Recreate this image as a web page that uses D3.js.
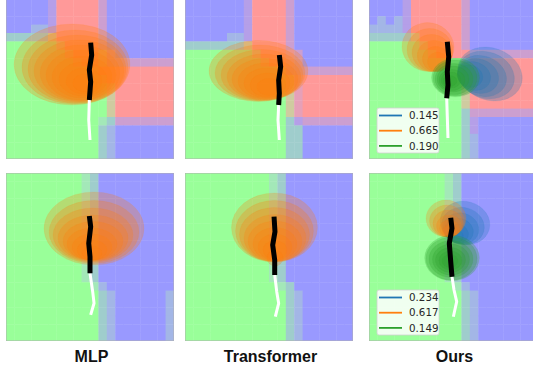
<!DOCTYPE html>
<html>
<head>
<meta charset="utf-8">
<script src="https://cdn.jsdelivr.net/npm/d3@7"></script>
<style>
  body { margin: 0; background: #fff; }
  svg { display: block; }
</style>
</head>
<body>
<svg id="chart" width="533" height="372"></svg>
<script>
// method names under the columns
const methods = ['MLP', 'Transformer', 'Ours'];

// background class maps, 20x20 cells, top row first
// B blue, G green, R red; lower case letters are blended cells
const bgMlpTop = [
  'BBBBBqRRRRRpBBBBBBBB', 'BBBBBqRRRRRpBBBBBBBB', 'BBBBBqRRRRRpBBBBBBBB', 'BBBBBqRRRRRpBBBBBBBB',
  'BBBbbqRRRRRpBBBBBBBB', 'cccccyRRRRRpBBBBBBBB', 'GGGGGGyRRRRpBBBBBBBB', 'GGGGGGGyRRRypBBBBBBB',
  'GGGGGGGGyRRypppppppp', 'GGGGGGGGGGyRRRRRRRRR', 'GGGGGGGGGGGyRRRRRRRR', 'GGGGGGGGGGGGyRRRRRRR',
  'GGGGGGGGGGGGyRRRRRRR', 'GGGGGGGGGGGGyRRRRRRR', 'GGGGGGGGGGGGyRRRRRRR', 'GGGGGGGGGGGgcppppppp',
  'GGGGGGGGGGGcbBBBBBBB', 'GGGGGGGGGGGcbBBBBBBB', 'GGGGGGGGGGGcbBBBBBBB', 'GGGGGGGGGGGcbBBBBBBB'
];
const bgTrfTop = [
  'BBBBBBBqRRRRpBBBBBBB', 'BBBBBBBqRRRRpBBBBBBB', 'BBBBBBBqRRRRpBBBBBBB', 'BBBBBBBqRRRRpBBBBBBB',
  'BBBBBBBqRRRRpBBBBBBB', 'BBBBBbbqRRRRpBBBBBBB', 'cccccccyRRRRpBBBBBBB', 'GGGGGGGGyRRRrpBBBBBB',
  'GGGGGGGGGyRRrpBBBBBB', 'GGGGGGGGGGGypppppppp', 'GGGGGGGGGGGGyrRRRRRR', 'GGGGGGGGGGGGyrRRRRRR',
  'GGGGGGGGGGGGyrRRRRRR', 'GGGGGGGGGGGGyrRRRRRR', 'GGGGGGGGGGGGyrRRRRRR', 'GGGGGGGGGGGGcqpppppp',
  'GGGGGGGGGGGGccBBBBBB', 'GGGGGGGGGGGGccBBBBBB', 'GGGGGGGGGGGGccBBBBBB', 'GGGGGGGGGGGGccBBBBBB'
];
const bgOursTop = [
  'BBBBqRRRRRRpBBBBBBBB', 'BBBBqRRRRRRpBBBBBBBB', 'BBBBqRRRRRRpBBBBBBBB', 'BbBbqRRRRRRpBBBBBBBB',
  'bbbbqRRRRRRpBBBBBBBB', 'cccccyRRRRRpBBBBBBBB', 'GGGGGGyRRRRpBBBBBBBB', 'GGGGGGGyRRRRpppppppp',
  'GGGGGGGGGGGyRRRRRRRR', 'GGGGGGGGGGGyRRRRRRRR', 'GGGGGGGGGGGyRRRRRRRR', 'GGGGGGGGGGGyRRRRRRRR',
  'GGGGGGGGGGGyRRRRRRRR', 'GGGGGGGGGGGyRRRRRRRR', 'GGGGGGGGGGGcpppppppp', 'GGGGGGGGGGGcqBBBBBBB',
  'GGGGGGGGGGGcqBBBBBBB', 'GGGGGGGGGGGcbBBBBBBB', 'GGGGGGGGGGGcbBBBBBBB', 'GGGGGGGGGGGcbBBBBBBB'
];
const bgMlpBot = [
  'GGGGGGGGGgcBBBBBBBBB', 'GGGGGGGGGgcBBBBBBBBB', 'GGGGGGGGGgcBBBBBBBBB', 'GGGGGGGGGgcBBBBBBBBB',
  'GGGGGGGGGgcBBBBBBBBB', 'GGGGGGGGGgcBBBBBBBBB', 'GGGGGGGGGgcBBBBBBBBB', 'GGGGGGGGGgcBBBBBBBBB',
  'GGGGGGGGGgcBBBBBBBBB', 'GGGGGGGGGgcBBBBBBBBB', 'GGGGGGGGGgcBBBBBBBBB', 'GGGGGGGGGgcBBBBBBBBB',
  'GGGGGGGGGgcBBBBBBBBB', 'GGGGGGGGGGgbBBBBBBBB', 'GGGGGGGGGGGcbBBBBBBb', 'GGGGGGGGGGGcbBBBBBBb',
  'GGGGGGGGGGGcbBBBBBBb', 'GGGGGGGGGGGcbBBBBBBb', 'GGGGGGGGGGGcbBBBBBBb', 'GGGGGGGGGGGcbBBBBBBb'
];
const bgTrfBot = [
  'GGGGGGGGGGgcBBBBBBBB', 'GGGGGGGGGGgcBBBBBBBB', 'GGGGGGGGGGgcBBBBBBBB', 'GGGGGGGGGGgcBBBBBBBB',
  'GGGGGGGGGGgcBBBBBBBB', 'GGGGGGGGGGgcBBBBBBBB', 'GGGGGGGGGGgcBBBBBBBB', 'GGGGGGGGGGgcBBBBBBBB',
  'GGGGGGGGGGgcBBBBBBBB', 'GGGGGGGGGGgcBBBBBBBB', 'GGGGGGGGGGgcBBBBBBBB', 'GGGGGGGGGGgcBBBBBBBB',
  'GGGGGGGGGGgcBBBBBBBB', 'GGGGGGGGGGGgcBBBBBBB', 'GGGGGGGGGGGGcbBBBBBB', 'GGGGGGGGGGGGcbBBBBBB',
  'GGGGGGGGGGGGcbBBBBBB', 'GGGGGGGGGGGGcbBBBBBB', 'GGGGGGGGGGGGcbBBBBBB', 'GGGGGGGGGGGGcbBBBBBB'
];
const bgOursBot = [
  'GGGGGGGGGgcBBBBBBBBB', 'GGGGGGGGGgcBBBBBBBBB', 'GGGGGGGGGgcBBBBBBBBB', 'GGGGGGGGGgcBBBBBBBBB',
  'GGGGGGGGGgcBBBBBBBBB', 'GGGGGGGGGgcBBBBBBBBB', 'GGGGGGGGGgcBBBBBBBBB', 'GGGGGGGGGgcBBBBBBBBB',
  'GGGGGGGGGgcBBBBBBBBB', 'GGGGGGGGGgcBBBBBBBBB', 'GGGGGGGGGgcBBBBBBBBB', 'GGGGGGGGGgcBBBBBBBBB',
  'GGGGGGGGGgcBBBBBBBBB', 'GGGGGGGGGGgbBBBBBBBB', 'GGGGGGGGGGGcbBBBBBBB', 'GGGGGGGGGGGcbBBBBBBB',
  'GGGGGGGGGGGcbBBBBBBB', 'GGGGGGGGGGGcbBBBBBBB', 'GGGGGGGGGGGcbBBBBBBB', 'GGGGGGGGGGGcbBBBBBBB'
];

// predicted gaussians per step: [x, y, rx, ry] in metres
const ellMlpTop = [
  [-2.14, 1.25, 6.90, 4.82], [-1.79, 0.95, 6.31, 4.40], [-1.55, 0.71, 5.83, 4.05],
  [-1.31, 0.48, 5.36, 3.69], [-1.19, 0.24, 4.76, 3.33], [-1.07, 0.00, 4.17, 2.98],
  [-0.95, -0.24, 3.57, 2.50], [-0.83, -0.48, 2.86, 2.02], [-0.71, -0.71, 2.14, 1.55],
  [-0.60, -0.95, 1.43, 1.07]
];
const ellTrfTop = [
  [-1.25, 0.48, 5.89, 3.63], [-1.07, 0.24, 5.36, 3.33], [-0.83, 0.00, 4.88, 3.04],
  [-0.60, -0.24, 4.40, 2.74], [-0.48, -0.48, 3.93, 2.44], [-0.36, -0.71, 3.33, 2.14],
  [-0.24, -0.95, 2.74, 1.79], [-0.12, -1.19, 2.14, 1.43], [0.00, -1.43, 1.43, 1.01]
];
const ellOursTopBlue = [
  [4.40, 0.12, 3.93, 3.10], [3.93, 0.00, 3.45, 2.74], [3.45, -0.12, 2.98, 2.38],
  [2.98, -0.12, 2.50, 2.02], [2.50, -0.12, 2.02, 1.67], [2.02, -0.12, 1.55, 1.31]
];
const ellOursTopOrange = [
  [-2.98, 3.33, 3.10, 2.90], [-2.74, 2.98, 2.74, 2.55], [-2.50, 2.62, 2.38, 2.20],
  [-2.26, 2.26, 2.00, 1.85], [-2.02, 1.90, 1.62, 1.50], [-1.79, 1.55, 1.25, 1.15]
];
const ellOursTopGreen = [
  [0.30, -0.30, 2.85, 2.30], [0.24, -0.36, 2.62, 2.14], [0.12, -0.48, 2.26, 1.85],
  [0.00, -0.48, 1.90, 1.55], [-0.12, -0.60, 1.55, 1.25], [-0.24, -0.60, 1.19, 0.95],
  [-0.36, -0.71, 0.83, 0.65]
];
const ellMlpBot = [
  [0.48, 3.39, 5.95, 4.35], [0.48, 2.98, 5.36, 3.75], [0.36, 2.62, 4.76, 3.21],
  [0.36, 2.26, 4.17, 2.74], [0.36, 1.90, 3.57, 2.32], [0.24, 1.55, 2.98, 1.90],
  [0.24, 1.19, 2.38, 1.55], [0.24, 0.83, 1.79, 1.19], [0.24, 0.48, 1.19, 0.83]
];
const ellTrfBot = [
  [0.65, 3.51, 5.12, 4.11], [0.65, 3.10, 4.64, 3.63], [0.65, 2.68, 4.17, 3.21],
  [0.71, 2.26, 3.69, 2.80], [0.71, 1.90, 3.21, 2.38], [0.71, 1.55, 2.62, 1.96],
  [0.71, 1.19, 2.02, 1.55], [0.71, 0.83, 1.43, 1.13], [0.71, -0.12, 0.95, 0.95]
];
const ellOursBotBlue = [
  [1.43, 4.05, 2.98, 2.56], [1.19, 3.69, 2.56, 2.20], [0.95, 3.39, 2.14, 1.85],
  [0.71, 3.10, 1.73, 1.49], [0.54, 2.80, 1.31, 1.13], [0.36, 2.50, 0.89, 0.77]
];
const ellOursBotOrange = [
  [-0.83, 4.58, 2.38, 2.20], [-0.71, 4.29, 2.08, 1.90], [-0.60, 3.99, 1.79, 1.61],
  [-0.48, 3.69, 1.49, 1.31], [-0.42, 3.39, 1.19, 1.01], [-0.36, 3.10, 0.89, 0.71]
];
const ellOursBotGreen = [
  [-0.12, -0.12, 3.25, 2.70], [-0.18, -0.18, 3.04, 2.56], [-0.24, -0.24, 2.62, 2.20],
  [-0.24, -0.30, 2.20, 1.85], [-0.30, -0.36, 1.79, 1.49], [-0.30, -0.42, 1.37, 1.13],
  [-0.36, -0.48, 0.95, 0.77]
];

// mode tilt in degrees (blue, orange, green)
const tiltOursTop = [-20, -10, 0];
const tiltOursBot = [-15, 0, 0];

// mode probabilities (blue, orange, green)
const probsOursTop = [0.145, 0.665, 0.190];
const probsOursBot = [0.234, 0.617, 0.149];

// ground truth future (black) and past (white)
const futMlpTop = [[0.08, 3.85], [0.2, 2.38], [-0.08, 0.6], [0.08, -0.8], [-0.08, -2.98]];
const histMlpTop = [[-0.08, -2.98], [-0.15, -5.36], [0, -7.74]];
const futTrfTop = [[1.23, 2.38], [1.39, 0.99], [1.15, -0.6], [1.23, -2.18], [1.15, -3.57]];
const histTrfTop = [[1.15, -3.57], [1.07, -5.36], [1.23, -7.74]];
const futOursTop = [[-0.68, 3.96], [-0.51, 2.18], [-0.68, 0.39], [-0.6, -1.19], [-0.75, -2.77]];
const histOursTop = [[-0.75, -2.77], [-0.68, -4.96], [-0.6, -7.5]];
const futMlpBot = [[-0.08, 4.88], [0.08, 3.61], [-0.15, 1.63], [0, 0.04], [0, -1.94]];
const histMlpBot = [[0, -1.94], [0.32, -4.13], [0.48, -5.51], [0.08, -6.9]];
const futTrfBot = [[0.6, 4.8], [0.71, 3.01], [0.44, 1.43], [0.68, -0.36], [0.68, -2.14]];
const histTrfBot = [[0.68, -2.14], [0.92, -4.13], [1.15, -5.51], [0.75, -7.11]];
const futOursBot = [[-0.27, 4.68], [-0.12, 3.42], [-0.44, 1.63], [-0.27, -0.56], [-0.12, -2.35]];
const histOursBot = [[-0.12, -2.35], [0.12, -3.93], [0.44, -5.32], [0.04, -7.11]];

const cellFill = {
  B: '#9999ff', G: '#99ff99', R: '#ff9999',
  c: '#9fcdcc', g: '#a3e8b8', b: '#a3b6e6',
  p: '#cc9fd0', q: '#b59fe8', r: '#e6a0b8', y: '#cfcba0'
};
const modeColor = ['#1f77b4', '#ff7f0e', '#2ca02c'];

const size = 168;
const colX = [6, 185, 369];
const rowY = [-9, 173];

const panels = [
  { col: 0, row: 0, bg: bgMlpTop, modes: [{ c: 1, ell: ellMlpTop }], fut: futMlpTop, hist: histMlpTop },
  { col: 1, row: 0, bg: bgTrfTop, modes: [{ c: 1, ell: ellTrfTop }], fut: futTrfTop, hist: histTrfTop },
  { col: 2, row: 0, bg: bgOursTop, fut: futOursTop, hist: histOursTop, probs: probsOursTop,
    modes: [{ c: 0, ell: ellOursTopBlue, tilt: tiltOursTop[0] }, { c: 1, ell: ellOursTopOrange, tilt: tiltOursTop[1] },
            { c: 2, ell: ellOursTopGreen, tilt: tiltOursTop[2] }] },
  { col: 0, row: 1, bg: bgMlpBot, modes: [{ c: 1, ell: ellMlpBot }], fut: futMlpBot, hist: histMlpBot },
  { col: 1, row: 1, bg: bgTrfBot, modes: [{ c: 1, ell: ellTrfBot }], fut: futTrfBot, hist: histTrfBot },
  { col: 2, row: 1, bg: bgOursBot, fut: futOursBot, hist: histOursBot, probs: probsOursBot,
    modes: [{ c: 0, ell: ellOursBotBlue, tilt: tiltOursBot[0] }, { c: 1, ell: ellOursBotOrange, tilt: tiltOursBot[1] },
            { c: 2, ell: ellOursBotGreen, tilt: tiltOursBot[2] }] }
];

const svg = d3.select('#chart');
svg.append('rect').attr('width', 533).attr('height', 372).attr('fill', '#fff');

const x = d3.scaleLinear().domain([-10, 10]).range([0, size]);
const y = d3.scaleLinear().domain([10, -10]).range([0, size]);
const cellX = d3.scaleBand().domain(d3.range(20)).range([0, size]);
const cellY = d3.scaleBand().domain(d3.range(20)).range([0, size]);
const line = d3.line().x(d => x(d[0])).y(d => y(d[1]));

panels.forEach((p, i) => {
  svg.append('clipPath').attr('id', 'clip' + i)
    .append('rect').attr('width', size).attr('height', size);

  const g = svg.append('g')
    .attr('transform', `translate(${colX[p.col]},${rowY[p.row]})`)
    .attr('clip-path', `url(#clip${i})`);

  const cells = p.bg.flatMap((row, r) => row.split('').map((k, c) => ({ r, c, k })));
  g.selectAll('rect.cell')
    .data(cells)
    .join('rect')
    .attr('class', 'cell')
    .attr('x', d => cellX(d.c))
    .attr('y', d => cellY(d.r))
    .attr('width', cellX.bandwidth() + 0.4)
    .attr('height', cellY.bandwidth() + 0.4)
    .attr('fill', d => cellFill[d.k]);

  p.modes.forEach(m => {
    g.append('g')
      .selectAll('ellipse')
      .data(m.ell)
      .join('ellipse')
      .attr('cx', d => x(d[0]))
      .attr('cy', d => y(d[1]))
      .attr('rx', d => x(d[2]) - x(0))
      .attr('ry', d => y(0) - y(d[3]))
      .attr('transform', d => m.tilt ? `rotate(${-m.tilt},${x(d[0])},${y(d[1])})` : null)
      .attr('fill', modeColor[m.c])
      .attr('fill-opacity', 0.27)
      .attr('stroke', modeColor[m.c])
      .attr('stroke-opacity', 0.12)
      .attr('stroke-width', 0.8);
  });

  g.append('path')
    .attr('d', line(p.hist))
    .attr('fill', 'none')
    .attr('stroke', '#fff')
    .attr('stroke-width', 3)
    .attr('stroke-linejoin', 'round');

  g.append('path')
    .attr('d', line(p.fut))
    .attr('fill', 'none')
    .attr('stroke', '#000')
    .attr('stroke-width', 5)
    .attr('stroke-linejoin', 'round');

  if (p.probs) {
    const lg = g.append('g').attr('transform', 'translate(8,117)');
    lg.append('rect')
      .attr('width', 62).attr('height', 45).attr('rx', 2)
      .attr('fill', '#fff').attr('fill-opacity', 0.85)
      .attr('stroke', '#d0d0d0').attr('stroke-width', 0.8);
    const items = lg.selectAll('g.item')
      .data(p.probs)
      .join('g')
      .attr('class', 'item')
      .attr('transform', (d, j) => `translate(0,${7.5 + j * 15.2})`);
    items.append('line')
      .attr('x1', 2).attr('x2', 25)
      .attr('stroke', (d, j) => modeColor[j])
      .attr('stroke-width', 1.8);
    items.append('text')
      .attr('x', 32).attr('dy', '0.36em')
      .attr('font-family', 'DejaVu Sans, sans-serif')
      .attr('font-size', 10.3)
      .attr('fill', '#262626')
      .text(d => d.toFixed(3));
  }

  g.append('rect')
    .attr('width', size).attr('height', size)
    .attr('fill', 'none')
    .attr('stroke', '#b0b0b0')
    .attr('stroke-width', 1);
});

svg.selectAll('text.method')
  .data(methods)
  .join('text')
  .attr('class', 'method')
  .attr('x', (d, i) => colX[i] + size / 2 + 1.5)
  .attr('y', 362)
  .attr('text-anchor', 'middle')
  .attr('font-family', 'Liberation Sans, Arial, sans-serif')
  .attr('font-weight', 'bold')
  .attr('font-size', 16)
  .attr('fill', '#111')
  .text(d => d);
</script>
</body>
</html>
